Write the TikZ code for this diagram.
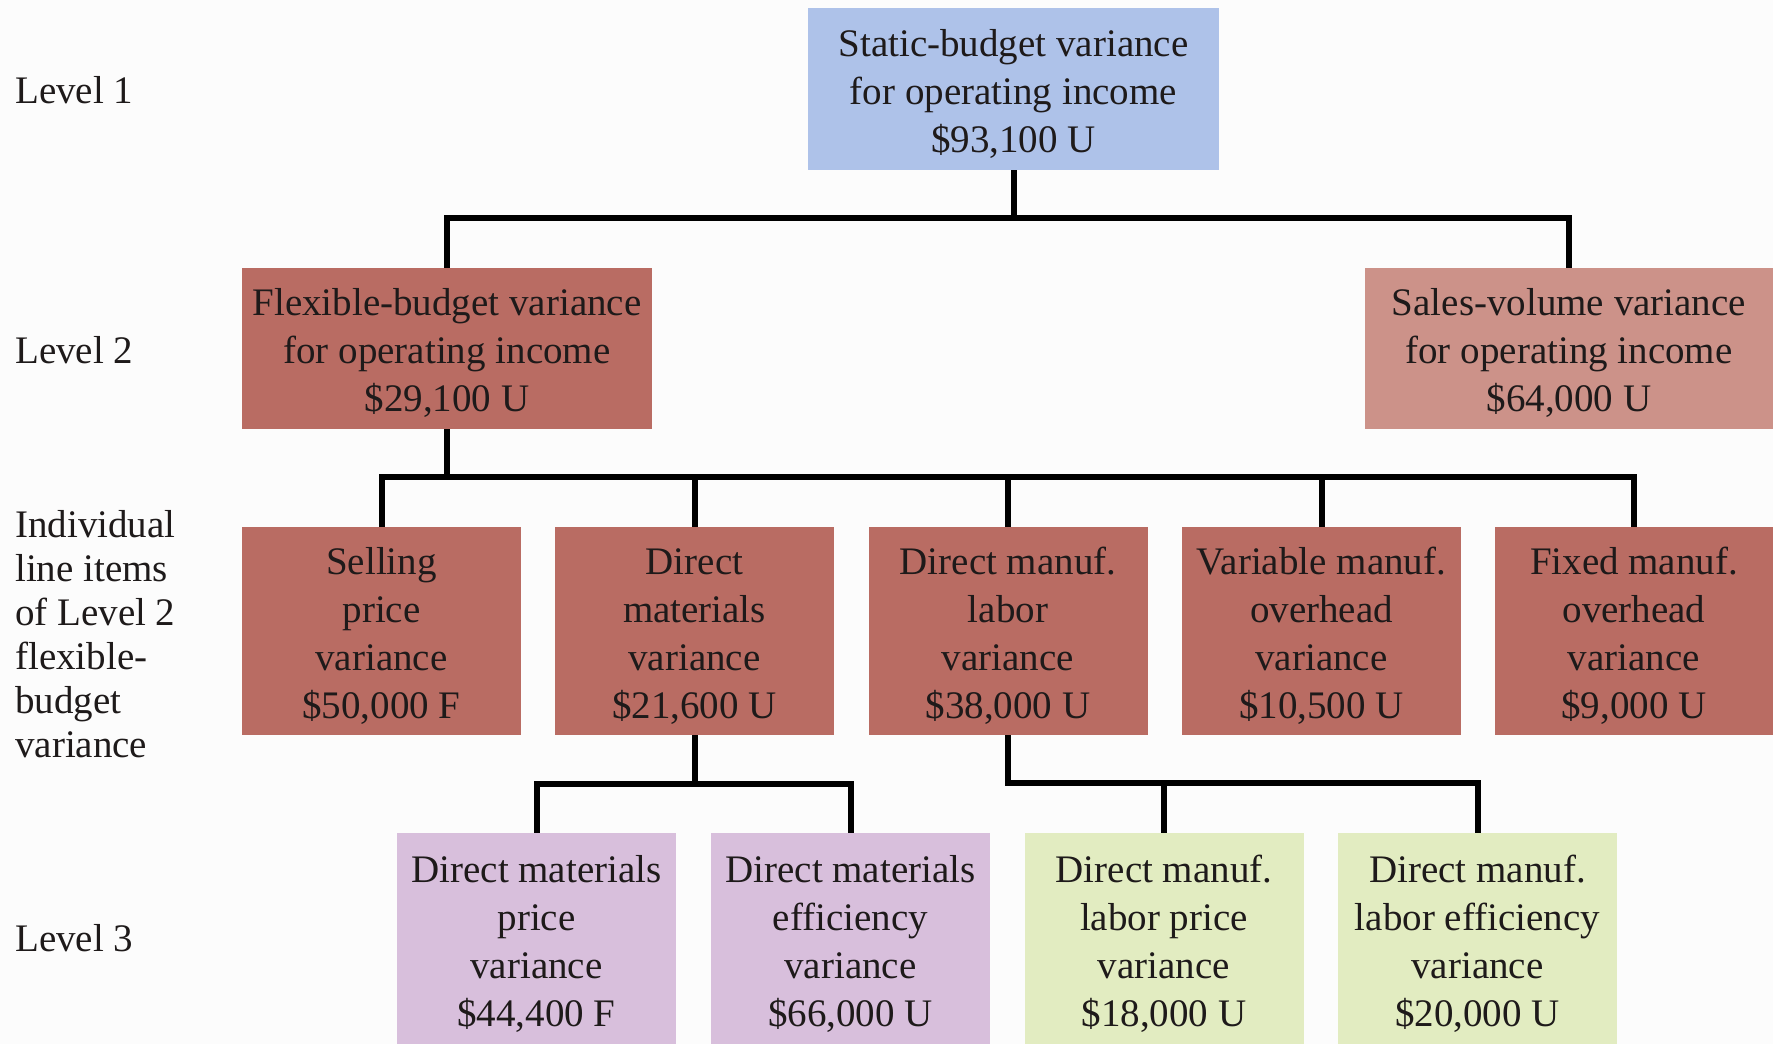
\documentclass[tikz,border=0pt]{standalone}
\usepackage{fontspec}
\setmainfont{Liberation Serif}
\definecolor{bgcol}{HTML}{FCFCFC}
\definecolor{bluebox}{HTML}{AEC2E9}
\definecolor{redbox}{HTML}{B96C63}
\definecolor{salesbox}{HTML}{CC9289}
\definecolor{purplebox}{HTML}{D8BFDC}
\definecolor{greenbox}{HTML}{E2ECC1}
\definecolor{txt}{HTML}{1E1A1A}
\newcommand\mystrut{\rule{0pt}{36pt}}
\begin{document}
\begin{tikzpicture}[x=1pt,y=-1pt,
  vbox/.style={rectangle, inner sep=0pt, align=center, text=txt,
    font=\fontsize{39}{48}\selectfont},
  toprow/.style={vbox, minimum width=411pt, minimum height=162pt},
  midrow/.style={vbox, minimum width=279pt, minimum height=208pt},
  lowrow/.style={vbox, minimum width=279pt, minimum height=212pt},
  lab/.style={anchor=west, inner sep=0pt, align=left, text=txt,
    font=\fontsize{39}{44}\selectfont},
  conn/.style={draw=black, line width=6pt, line join=miter}]
\useasboundingbox (0,0) rectangle (1773,1044);
\fill[bgcol] (0,0) rectangle (1773,1044);

% Level 1
\node[toprow, fill=bluebox] (top) at (1013.5,89) {\mystrut Static-budget variance\\for operating income\\\$93,100 U};
% Level 2
\node[toprow, fill=redbox, minimum width=410pt, minimum height=161pt] (flex) at (447,348.5) {\mystrut Flexible-budget variance\\for operating income\\\$29,100 U};
\node[toprow, fill=salesbox, minimum width=408pt, minimum height=161pt] (sales) at (1569,348.5) {\mystrut Sales-volume variance\\for operating income\\\$64,000 U};
% line items
\node[midrow, fill=redbox] (sp) at (381.5,631) {\mystrut Selling\\price\\variance\\\$50,000 F};
\node[midrow, fill=redbox] (dm) at (694.5,631) {\mystrut Direct\\materials\\variance\\\$21,600 U};
\node[midrow, fill=redbox] (dml) at (1008,631) {\mystrut Direct manuf.\\labor\\variance\\\$38,000 U};
\node[midrow, fill=redbox] (vmo) at (1321.5,631) {\mystrut Variable manuf.\\overhead\\variance\\\$10,500 U};
\node[midrow, fill=redbox, minimum width=278pt] (fmo) at (1634,631) {\mystrut Fixed manuf.\\overhead\\variance\\\$9,000 U};
% Level 3
\node[lowrow, fill=purplebox] (dmp) at (536.5,939) {\mystrut Direct materials\\price\\variance\\\$44,400 F};
\node[lowrow, fill=purplebox] (dme) at (850.5,939) {\mystrut Direct materials\\efficiency\\variance\\\$66,000 U};
\node[lowrow, fill=greenbox] (dlp) at (1164,939) {\mystrut Direct manuf.\\labor price\\variance\\\$18,000 U};
\node[lowrow, fill=greenbox] (dle) at (1477.5,939) {\mystrut Direct manuf.\\labor efficiency\\variance\\\$20,000 U};

% left labels
\node[lab] (l1) at (15,90) {Level 1};
\node[lab] (l2) at (15,350) {Level 2};
\node[lab] (li) at (15,634) {Individual\\line items\\of Level 2\\flexible-\\budget\\variance};
\node[lab] (l3) at (15,938) {Level 3};

% connectors
\coordinate (b1) at (0,218);
\coordinate (b2) at (0,477);
\coordinate (b3) at (0,784);
\coordinate (b4) at (0,783);
\draw[conn] (top.south) -- (top.south |- b1);
\draw[conn] (flex.north) |- (b1 -| sales.north) -- (sales.north);

\draw[conn] (flex.south) -- (flex.south |- b2);
\draw[conn] (sp.north) |- (b2 -| fmo.north) -- (fmo.north);
\foreach \n in {dm,dml,vmo} {\draw[conn] (\n.north) -- (\n.north |- b2);}

\draw[conn] (dm.south) -- (dm.south |- b3);
\draw[conn] (dmp.north) |- (b3 -| dme.north) -- (dme.north);

\draw[conn] (dml.south) |- (b4 -| dle.north) -- (dle.north);
\draw[conn] (dlp.north) -- (dlp.north |- b4);
\end{tikzpicture}
\end{document}
